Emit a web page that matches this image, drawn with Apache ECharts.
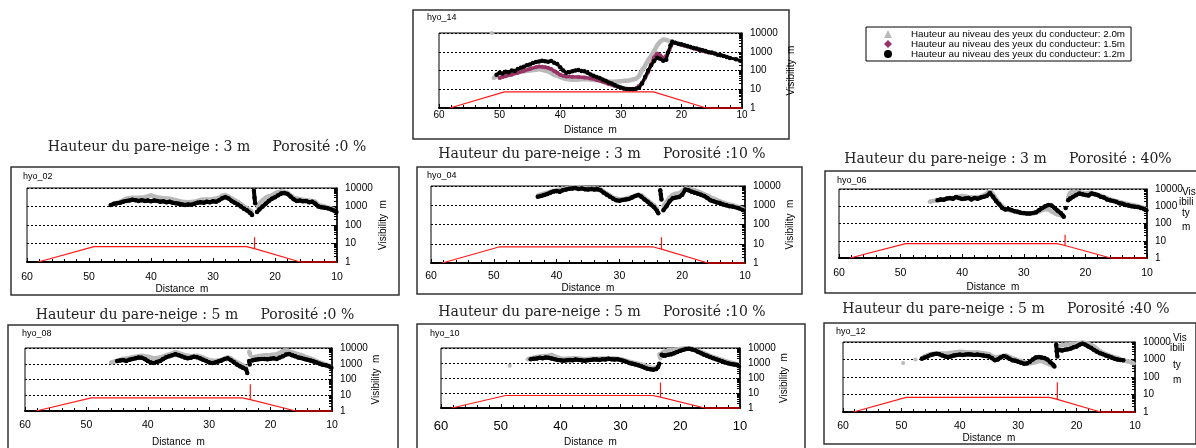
<!DOCTYPE html>
<html>
<head>
<meta charset="utf-8">
<script src="https://cdn.jsdelivr.net/npm/echarts@6/dist/echarts.min.js"></script>
<style>
  html, body { margin: 0; padding: 0; background: #fff; }
  #chart { width: 1196px; height: 448px; }
</style>
</head>
<body>
<div id="chart"></div>
<script>
// ---- data ----
const seriesNames = [
  'Hauteur au niveau des yeux du conducteur: 2.0m',
  'Hauteur au niveau des yeux du conducteur: 1.5m',
  'Hauteur au niveau des yeux du conducteur: 1.2m'
]
const panelNames = ['hyo_14', 'hyo_02', 'hyo_04', 'hyo_06', 'hyo_08', 'hyo_10', 'hyo_12']
const panelTitles = [
  '',
  'Hauteur du pare-neige : 3 m     Porosité :0 %',
  'Hauteur du pare-neige : 3 m     Porosité :10 %',
  'Hauteur du pare-neige : 3 m     Porosité : 40%',
  'Hauteur du pare-neige : 5 m     Porosité :0 %',
  'Hauteur du pare-neige : 5 m     Porosité :10 %',
  'Hauteur du pare-neige : 5 m     Porosité :40 %'
]
const yTicks = [1, 10, 100, 1000, 10000]

// snow fence / embankment profile (distance m, plotted on the visibility scale)
const profileNoFence = [[58.2, 1], [49.2, 7.2], [24.6, 7.2], [15.9, 1]]
const profile3m = [[58.2, 1], [49.2, 6.8], [24.6, 6.8], [23.3, 5.3], [23.3, 22], [23.3, 5.3], [15.9, 1]]
const profile5m = [[58.2, 1], [49.2, 6.8], [24.6, 6.8], [23.3, 5.3], [23.3, 50], [23.3, 5.3], [15.9, 1]]
const groundEnd = [[15.9, 1], [10, 1]]

const hyo14Gray = [[51.3, 10000], [51.2, '-'], [51, 40], [50.5, 50], [50, 55], [49, 60], [48, 70], [47, 80], [46, 90], [45, 100], [44, 110], [43.5, 120], [43, 110], [42, 90], [41, 60], [40, 45], [39, 35], [38, 32], [37, 33], [36, 35], [35, 33], [34, 30], [33, 28], [32, 26], [31, 25], [30, 27], [29.5, 28], [29, 28], [28.5, 30], [28, 33], [27.5, 36], [27, 50], [26.5, 100], [26, 180], [25.5, 350], [25, 600], [24.5, 1100], [24, 2200], [23.5, 3500], [23, 4500], [22.5, 4200], [22, 3800], [21.5, 3500]]
const hyo14Purple = [[50, 40], [49.5, 45], [49, 50], [48.5, 55], [48, 60], [47, 75], [46, 95], [45, 120], [44, 150], [43.5, 165], [43, 160], [42.5, 150], [42, 140], [41.5, 120], [41, 95], [40.5, 75], [40, 60], [39.5, 52], [39, 48], [38, 46], [37, 45], [36, 42], [35, 38], [34, 32], [33, 25], [32, 19], [31, 15], [30, 12], [29.5, 11], [29, 10.5], [28, 10.5], [27.5, 11], [27, 15], [26.5, 22], [26, 40], [25.5, 80], [25, 200], [24.5, 500], [24, 800], [23.5, 650], [23, 450], [22.5, 600], [22, 1200], [21.5, 2800], [21, 3000], [20.5, 2600], [20, 2300], [19, 1900], [18, 1500], [17, 1200], [16, 1000], [15, 850]]
const hyo14Black = [[50.5, 60], [50, 75], [49.5, 70], [49, 85], [48.5, 80], [48, 100], [47.5, 95], [47, 120], [46.5, 140], [46, 160], [45.5, 190], [45, 210], [44.5, 250], [44, 280], [43.5, 300], [43, 330], [42.5, 310], [42, 290], [41.5, 320], [41, 260], [40.5, 220], [40, 150], [39.5, 100], [39, 75], [38.5, 80], [38, 90], [37.5, 100], [37, 105], [36.5, 95], [36, 90], [35.5, 75], [35, 62], [34.5, 52], [34, 45], [33.5, 40], [33, 33], [32.5, 28], [32, 23], [31.5, 20], [31, 17], [30.5, 14], [30, 12.5], [29.5, 11], [29, 10.2], [28.5, 10], [28, 10], [27.5, 10.5], [27, 12], [26.5, 20], [26, 45], [25.5, 100], [25, 190], [24.5, 320], [24, 480], [23.5, 420], [23, 330], [22.5, 380], [22.2, 900], [21.8, 2200], [21.5, 3400], [21, 3000], [20.5, 2700], [20, 2500], [19.5, 2200], [19, 2000], [18.5, 1800], [18, 1600], [17.5, 1500], [17, 1300], [16.5, 1200], [16, 1100], [15.5, 950], [15, 900], [14.5, 800], [14, 700], [13.5, 650], [13, 600], [12.5, 520], [12, 470], [11, 400], [10.3, 330]]

const hyo02Gray = [[46, 1300], [45, 1800], [44, 2600], [43, 3000], [42, 3000], [41, 3200], [40, 4000], [39.5, 3500], [39, 3200], [38, 2800], [37, 2600], [36, 2200], [35, 1800], [34, 1700], [33, 1800], [32, 2300], [31, 2400], [30, 2500], [29, 3000], [28.5, 3800], [28, 4200], [27.5, 3500], [27, 2700], [26, 1800], [25, 1000], [24.5, 800], [24, 600], [23.7, 500], [23.5, '-'], [22.8, 900], [22.5, 1500], [22, 2200], [21.5, 3000], [21, 3500], [20.5, 4000], [20, 5000], [19.5, 6000], [19, 6500], [18.5, 6000], [18, 5500], [17.5, 4000], [17, 3000], [16, 2500], [15, 2200], [14, 2000], [13.5, 1800], [13, 1200], [12, 1000], [11, 800], [10.5, 700]]
const hyo02Black = [[46.5, 1200], [46, 1400], [45.5, 1500], [45, 1600], [44.5, 1800], [44, 2000], [43.5, 2100], [43, 2300], [42.5, 2200], [42, 2000], [41.5, 2200], [41, 2000], [40.5, 2100], [40, 1900], [39.5, 2100], [39, 2000], [38.5, 1800], [38, 1900], [37.5, 1700], [37, 1800], [36.5, 1600], [36, 1500], [35.5, 1400], [35, 1300], [34.5, 1200], [34, 1300], [33.5, 1250], [33, 1400], [32.5, 1600], [32, 1700], [31.5, 1600], [31, 1800], [30.5, 1700], [30, 1900], [29.5, 1800], [29, 2200], [28.5, 2800], [28, 3200], [27.5, 2700], [27, 2000], [26.5, 1600], [26, 1300], [25.5, 1000], [25, 750], [24.5, 600], [24, 450], [23.7, 350], [23.5, '-'], [23.4, 7000], [23.3, 3000], [23.2, 1500], [23, '-'], [22.9, 500], [22.5, 700], [22, 1000], [21.5, 1400], [21, 2000], [20.5, 2600], [20, 3200], [19.5, 4000], [19, 5000], [18.5, 5400], [18, 4800], [17.5, 3500], [17, 2500], [16.5, 2000], [16, 2100], [15.5, 1900], [15, 2000], [14.5, 1700], [14, 1800], [13.5, 1400], [13, 1000], [12.5, 900], [12, 850], [11.5, 800], [11, 700], [10.5, 600], [10.1, 500]]

const hyo04Gray = [[43, 3200], [42, 4000], [41, 5000], [40, 6000], [39, 7000], [38, 8000], [37, 8500], [36, 8000], [35, 7500], [34, 7500], [33, 6500], [32, 4000], [31, 2500], [30, 2000], [29, 2200], [28, 2700], [27, 3500], [26.5, 3200], [26, 2400], [25, 1300], [24.5, 1000], [24, 650], [23.6, '-'], [23, 900], [22.5, 1500], [22, 2500], [21.5, 3500], [21, 4000], [20.5, 4200], [20, 5500], [19.5, 7500], [19, 7000], [18, 6000], [17, 4500], [16, 3200], [15, 2200], [14, 1600], [13, 1200], [12, 1000], [11, 800], [10.3, 650]]
const hyo04Black = [[43, 2800], [42.5, 3000], [42, 3400], [41.5, 3800], [41, 4500], [40.5, 5200], [40, 5500], [39.5, 5000], [39, 6000], [38.5, 6500], [38, 7200], [37.5, 7500], [37, 7800], [36.5, 7000], [36, 7500], [35.5, 6800], [35, 6500], [34.5, 7000], [34, 6500], [33.5, 6800], [33, 6000], [32.5, 4500], [32, 3500], [31.5, 2800], [31, 2200], [30.5, 1800], [30, 1700], [29.5, 1900], [29, 2000], [28.5, 2100], [28, 2500], [27.5, 3000], [27, 3400], [26.5, 2800], [26, 2000], [25.5, 1500], [25, 1100], [24.5, 800], [24, 500], [23.8, 380], [23.6, '-'], [23.5, 6000], [23.4, 3500], [23.3, 2000], [23.2, '-'], [23, 550], [22.5, 900], [22, 1600], [21.5, 2300], [21, 2500], [20.5, 2700], [20, 3500], [19.5, 6500], [19, 6000], [18.5, 5000], [18, 4500], [17.5, 4000], [17, 3500], [16.5, 3000], [16, 2400], [15.5, 1800], [15, 1600], [14.5, 1400], [14, 1300], [13.5, 1100], [13, 1000], [12.5, 900], [12, 850], [11, 700], [10.3, 550]]

const hyo06Gray = [[45.3, 1800], [45, 2000], [44, 2300], [43, 2500], [42, 2800], [41, 3200], [40, 4000], [39, 3500], [38, 3200], [37, 3500], [36, 5500], [35.5, 8000], [35, 5000], [34, 1500], [33, 700], [32, 550], [31, 450], [30, 380], [29, 380], [28, 420], [27, 600], [26.5, 700], [26, 650], [25.5, 500], [25, 400], [24.5, 330], [24, 300], [23.5, 250], [23.3, '-'], [22.8, 3000], [22.5, 6000], [22, 7000], [21, 6500], [20, 5500], [19, 6000], [18, 4500], [17, 3500], [16, 2500], [15, 2000], [14, 1600], [13, 1300], [12, 1100], [11, 900], [10.2, 700]]
const hyo06Black = [[44, 2200], [43.5, 2500], [43, 2400], [42.5, 2800], [42, 3000], [41.5, 2700], [41, 3400], [40.5, 3000], [40, 2600], [39.5, 2800], [39, 3000], [38.5, 2500], [38, 3000], [37.5, 2700], [37, 3200], [36.5, 3500], [36, 4000], [35.5, 5900], [35, 3500], [34.5, 2000], [34, 1300], [33.5, 800], [33, 650], [32.5, 700], [32, 600], [31.5, 520], [31, 480], [30.5, 420], [30, 400], [29.5, 380], [29, 380], [28.5, 400], [28, 450], [27.5, 600], [27, 800], [26.5, 1000], [26, 1200], [25.5, 1100], [25, 800], [24.5, 550], [24, 400], [23.7, 300], [23.5, 250], [23.3, '-'], [23.2, 800], [23, '-'], [22.8, 2200], [22.5, 2800], [22, 3500], [21.5, 4500], [21, 5500], [20.5, 5000], [20, 4500], [19.5, 4200], [19, 5500], [18.5, 5000], [18, 4500], [17.5, 3500], [17, 3200], [16.5, 2500], [16, 2200], [15.5, 2000], [15, 1800], [14.5, 1500], [14, 1400], [13.5, 1200], [13, 1100], [12.5, 1000], [12, 950], [11.5, 900], [11, 800], [10.5, 700], [10.1, 580]]

const hyo08Gray = [[46, 1200], [45, 1500], [44, 2000], [43, 2300], [42, 2800], [41, 3200], [40, 2800], [39, 2200], [38, 2500], [37, 3500], [36, 4500], [35.5, 5500], [35, 4800], [34, 3500], [33, 3000], [32, 3200], [31, 2500], [30, 1700], [29, 1500], [28, 1800], [27, 2600], [26.5, 2200], [26, 1600], [25, 1000], [24.5, 800], [24, 600], [23.6, '-'], [23.5, 6000], [23.3, 3500], [23.1, '-'], [23, 2500], [22, 3000], [21, 3500], [20, 3600], [19, 4000], [18.5, 5000], [18, 6500], [17.5, 7000], [17, 6000], [16, 4500], [15, 3500], [14, 2500], [13, 1800], [12, 1200], [11, 900], [10.3, 700]]
const hyo08Black = [[45, 1500], [44.5, 1600], [44, 1700], [43.5, 1500], [43, 1800], [42.5, 2000], [42, 2200], [41.5, 2500], [41, 2400], [40.5, 2000], [40, 1500], [39.5, 1200], [39, 1100], [38.5, 1300], [38, 1500], [37.5, 2000], [37, 2600], [36.5, 3000], [36, 3500], [35.5, 4000], [35, 3500], [34.5, 3000], [34, 2500], [33.5, 2200], [33, 2400], [32.5, 2800], [32, 2600], [31.5, 2200], [31, 1800], [30.5, 1500], [30, 1200], [29.5, 1100], [29, 1200], [28.5, 1400], [28, 1600], [27.5, 2000], [27, 2200], [26.5, 1700], [26, 1300], [25.5, 900], [25, 700], [24.5, 550], [24, 450], [23.8, 260], [23.6, '-'], [23.5, 1500], [23.4, 900], [23.3, '-'], [23, 1600], [22.5, 1800], [22, 1900], [21.5, 2000], [21, 2000], [20.5, 1900], [20, 2100], [19.5, 2200], [19, 2000], [18.5, 2500], [18, 3000], [17.5, 3800], [17, 4200], [16.5, 3500], [16, 3000], [15.5, 2500], [15, 2300], [14.5, 2000], [14, 1800], [13.5, 1600], [13, 1400], [12.5, 1200], [12, 1000], [11.5, 850], [11, 800], [10.5, 700], [10.1, 550]]

const hyo10Gray = [[48.5, 660], [48.4, '-'], [45.5, 1800], [45, 2000], [44, 2500], [43, 2800], [42, 3000], [41.5, 3500], [41, 2800], [40, 2000], [39, 1900], [38, 2100], [37, 2000], [36, 1800], [35, 1900], [34, 1900], [33, 2000], [32, 2100], [31, 2000], [30, 1800], [29, 1400], [28, 1100], [27, 900], [26, 700], [25.5, 600], [25, 500], [24.5, 450], [24, 500], [23.6, '-'], [23.5, 4000], [23.3, 2000], [23.2, '-'], [23, 5000], [22.5, 6000], [22, 7000], [21, 7500], [20, 8500], [19, 9500], [18, 9000], [17, 6500], [16, 4500], [15, 3000], [14, 2200], [13, 1600], [12, 1200], [11, 950], [10.3, 750]]
const hyo10Black = [[45, 1800], [44.5, 1900], [44, 2000], [43.5, 2200], [43, 2100], [42.5, 2300], [42, 2200], [41.5, 2000], [41, 1800], [40.5, 1600], [40, 1500], [39.5, 1400], [39, 1500], [38.5, 1600], [38, 1500], [37.5, 1700], [37, 1600], [36.5, 1500], [36, 1400], [35.5, 1500], [35, 1600], [34.5, 1700], [34, 1700], [33.5, 1600], [33, 1800], [32.5, 1700], [32, 1900], [31.5, 1800], [31, 1700], [30.5, 1800], [30, 1600], [29.5, 1400], [29, 1200], [28.5, 1000], [28, 900], [27.5, 800], [27, 700], [26.5, 600], [26, 500], [25.5, 420], [25, 380], [24.5, 360], [24, 400], [23.7, 550], [23.5, 900], [23.3, '-'], [23.1, 3600], [22.8, 3000], [22.5, 3200], [22, 3500], [21.5, 3800], [21, 4500], [20.5, 5500], [20, 6500], [19.5, 7500], [19, 8500], [18.5, 8800], [18, 8000], [17.5, 7000], [17, 5500], [16.5, 4500], [16, 3600], [15.5, 3000], [15, 2500], [14.5, 2100], [14, 1800], [13.5, 1500], [13, 1300], [12.5, 1100], [12, 950], [11.5, 850], [11, 800], [10.5, 750], [10.2, 600]]

const hyo12Gray = [[49.7, 630], [49.6, '-'], [47.6, 1000], [47.5, '-'], [46.5, 1200], [46, 1500], [45, 2000], [44, 2300], [43, 2200], [42, 2300], [41, 2500], [40, 2800], [39, 2600], [38, 2500], [37, 2500], [36, 2300], [35, 2000], [34, 1300], [33, 1500], [32, 1700], [31, 1200], [30, 900], [29, 700], [28, 600], [27.5, 650], [27, 700], [26.5, 800], [26, 850], [25.5, 700], [25, 600], [24.5, 500], [24, 450], [23.6, '-'], [23, 6000], [22, 7000], [21, 7500], [20, 8000], [19, 9500], [18, 8000], [17, 5500], [16, 3000], [15, 2000], [14, 1500], [13, 1200], [12, 900], [11, 750], [10.2, 600]]
const hyo12Black = [[46.5, 1100], [46, 1300], [45.5, 1500], [45, 1800], [44.5, 2000], [44, 2100], [43.5, 2000], [43, 1700], [42.5, 1500], [42, 1400], [41.5, 1500], [41, 1700], [40.5, 1800], [40, 1900], [39.5, 1800], [39, 1900], [38.5, 2000], [38, 1900], [37.5, 1800], [37, 1900], [36.5, 1800], [36, 1700], [35.5, 1600], [35, 1500], [34.5, 1200], [34, 900], [33.5, 1000], [33, 1300], [32.5, 1600], [32, 1400], [31.5, 1100], [31, 900], [30.5, 850], [30, 750], [29.5, 650], [29, 580], [28.5, 600], [28, 750], [27.5, 1000], [27, 1300], [26.5, 1400], [26, 1300], [25.5, 1200], [25, 1000], [24.5, 700], [24, 500], [23.8, 400], [23.6, '-'], [23.5, 7000], [23.4, 3000], [23.3, 1500], [23.2, '-'], [23, 3500], [22.5, 3300], [22, 3600], [21.5, 3800], [21, 4200], [20.5, 5000], [20, 5500], [19.5, 7000], [19, 8000], [18.5, 7000], [18, 5500], [17.5, 4500], [17, 3500], [16.5, 2800], [16, 2300], [15.5, 2000], [15, 1700], [14.5, 1500], [14, 1300], [13.5, 1100], [13, 1000], [12.5, 950], [12, 900]]

const panelData = [
  { gray: hyo14Gray, purple: hyo14Purple, black: hyo14Black, profile: profileNoFence },
  { gray: hyo02Gray, black: hyo02Black, profile: profile3m },
  { gray: hyo04Gray, black: hyo04Black, profile: profile3m },
  { gray: hyo06Gray, black: hyo06Black, profile: profile3m },
  { gray: hyo08Gray, black: hyo08Black, profile: profile5m },
  { gray: hyo10Gray, black: hyo10Black, profile: profile5m },
  { gray: hyo12Gray, black: hyo12Black, profile: profile5m }
]

// ---- layout (pixels) ----
const layout = [
  { grid: [439, 33, 303, 75], box: [413, 10, 376, 129], tag: [427, 18], head: null, xFont: 10, xMargin: 2, xGap: 17, yGap: 44 },
  { grid: [27, 188, 310, 74], box: [11, 167, 388, 128], tag: [23, 177], head: [207, 147], xFont: 10.5, xMargin: 10, xGap: 20, yGap: 41 },
  { grid: [431, 186, 314, 77], box: [417, 167, 385, 127], tag: [427, 176], head: [602, 154], xFont: 10.5, xMargin: 8, xGap: 18, yGap: 40 },
  { grid: [839, 189, 308, 69], box: [825, 171, 372, 122], tag: [837, 181], head: [1008, 159], xFont: 10.5, xMargin: 10, xGap: 24, stack: [1179, [192, 202, 213, 227]] },
  { grid: [25, 348, 307, 65], box: [8, 325, 390, 130], tag: [22, 334], head: [195, 315], xFont: 10.5, xMargin: 9, xGap: 26, yGap: 38 },
  { grid: [441, 348, 299, 60], box: [417, 324, 388, 130], tag: [430, 334], head: [602, 312], xFont: 13, xMargin: 12, xGap: 29, yGap: 38 },
  { grid: [843, 342, 292, 70], box: [824, 323, 372, 121], tag: [836, 332], head: [1006, 309], xFont: 10.5, xMargin: 9, xGap: 20, stack: [1170, [338, 348, 365, 380]] }
]

const sans = 'Liberation Sans, Arial, sans-serif'
const serif = 'DejaVu Serif, Liberation Serif, serif'

const chart = echarts.init(document.getElementById('chart'), null, { renderer: 'canvas' })

const grids = []
const xAxes = []
const yAxes = []
const series = []
const graphics = []

layout.forEach((p, i) => {
  grids.push({
    left: p.grid[0], top: p.grid[1], width: p.grid[2], height: p.grid[3],
    show: true, borderColor: '#000', borderWidth: 1, containLabel: false
  })
  xAxes.push({
    gridIndex: i, type: 'value', inverse: true, min: 10, max: 60, interval: 10,
    axisLine: { show: true, onZero: false, lineStyle: { color: '#000', width: 2 } },
    axisTick: { show: true, inside: true, length: 4, lineStyle: { color: '#000' } },
    minorTick: { show: true, splitNumber: 5, length: 3, lineStyle: { color: '#000' } },
    splitLine: { show: false },
    axisLabel: { color: '#000', fontSize: p.xFont, fontFamily: sans, margin: p.xMargin },
    name: 'Distance  m', nameLocation: 'middle', nameGap: p.xGap,
    nameTextStyle: { color: '#000', fontSize: 10, fontFamily: sans }
  })
  yAxes.push({
    gridIndex: i, type: 'log', logBase: 10, min: 1, max: 10000, position: 'right',
    axisLine: { show: true, lineStyle: { color: '#000', width: 1.5 } },
    axisTick: { show: true, inside: true, length: 4, lineStyle: { color: '#000' } },
    minorTick: { show: true, splitNumber: 9, length: 3, lineStyle: { color: '#000' } },
    splitLine: { show: true, lineStyle: { color: '#000', width: 1, type: [2, 2] } },
    axisLabel: {
      color: '#000', fontSize: 10, fontFamily: sans, margin: 8,
      formatter: v => (yTicks.indexOf(v) >= 0 ? String(v) : '')
    },
    name: p.stack ? '' : 'Visibility  m', nameLocation: 'middle', nameRotate: 90, nameGap: p.yGap || 40,
    nameTextStyle: { color: '#000', fontSize: 10, fontFamily: sans }
  })

  const d = panelData[i]
  const base = { type: 'line', xAxisIndex: i, yAxisIndex: i, animation: false, silent: true, symbol: 'circle', showSymbol: true, connectNulls: false }
  series.push(Object.assign({}, base, {
    name: seriesNames[0], data: d.gray, symbolSize: 4, z: 2,
    itemStyle: { color: '#b9b9b9' }, lineStyle: { color: '#b9b9b9', width: 4.5 }
  }))
  if (d.purple) {
    series.push(Object.assign({}, base, {
      name: seriesNames[1], data: d.purple, symbolSize: 4, z: 3,
      itemStyle: { color: '#993366' }, lineStyle: { color: '#993366', width: 3.5 }
    }))
  }
  series.push(Object.assign({}, base, {
    name: seriesNames[2], data: d.black, symbolSize: 4.5, z: 4,
    itemStyle: { color: '#000' }, lineStyle: { color: '#000', width: i === 0 ? 3 : 4 }
  }))
  series.push(Object.assign({}, base, {
    data: d.profile, showSymbol: false, z: 5,
    lineStyle: { color: '#ff1a1a', width: 1.2 }
  }))
  series.push(Object.assign({}, base, {
    data: groundEnd, showSymbol: false, z: 5,
    lineStyle: { color: '#a00000', width: 2 }
  }))

  graphics.push({
    type: 'rect', silent: true, z: 0,
    shape: { x: p.box[0], y: p.box[1], width: p.box[2], height: p.box[3] },
    style: { fill: 'none', stroke: '#333', lineWidth: 1.5 }
  })
  graphics.push({
    type: 'text', silent: true, x: p.tag[0], y: p.tag[1],
    style: { text: panelNames[i], fill: '#000', font: '9px ' + sans, textVerticalAlign: 'middle', verticalAlign: 'middle' }
  })
  if (p.head) {
    graphics.push({
      type: 'text', silent: true, x: p.head[0], y: p.head[1],
      style: {
        text: panelTitles[i], fill: '#222', font: '14px ' + serif,
        textAlign: 'center', align: 'center', textVerticalAlign: 'middle', verticalAlign: 'middle'
      }
    })
  }
  if (p.stack) {
    ;['Vis', 'ibili', 'ty', 'm'].forEach((t, k) => {
      graphics.push({
        type: 'text', silent: true, x: p.stack[0] + (k === 1 ? 0 : 3), y: p.stack[1][k],
        style: { text: t, fill: '#000', font: '10px ' + sans, textVerticalAlign: 'middle', verticalAlign: 'middle' }
      })
    })
  }
})

const option = {
  backgroundColor: '#fff',
  animation: false,
  legend: {
    left: 866, top: 27, orient: 'vertical',
    data: [
      { name: seriesNames[0], icon: 'triangle' },
      { name: seriesNames[1], icon: 'diamond' },
      { name: seriesNames[2], icon: 'circle' }
    ],
    itemWidth: 8, itemHeight: 8, itemGap: 0,
    padding: [2, 6, 2, 18],
    borderColor: '#000', borderWidth: 1,
    selectedMode: false,
    textStyle: { fontSize: 9.8, color: '#000', fontFamily: sans, padding: [0, 0, 0, 14] }
  },
  grid: grids,
  xAxis: xAxes,
  yAxis: yAxes,
  series: series,
  graphic: graphics
}
chart.setOption(option)
</script>
</body>
</html>
